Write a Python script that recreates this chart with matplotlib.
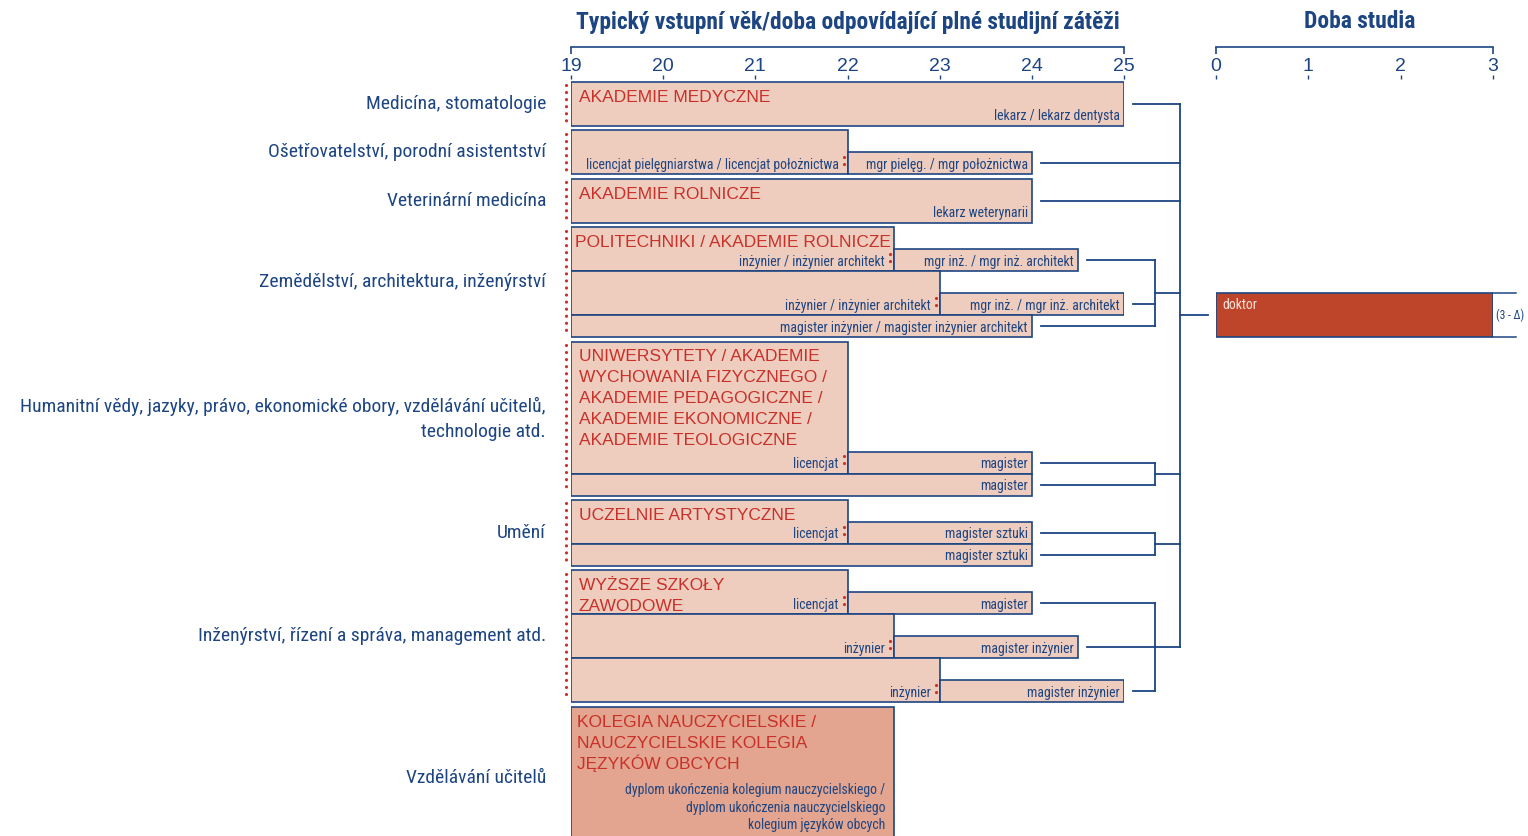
import matplotlib
matplotlib.use("Agg")
import matplotlib.pyplot as plt
from matplotlib.patches import Rectangle
import matplotlib.font_manager as fm

# ---------------- data ----------------
TITLE_AGE = "Typický vstupní věk/doba odpovídající plné studijní zátěži"
TITLE_DURATION = "Doba studia"
AGE_TICKS = [19, 20, 21, 22, 23, 24, 25]
DURATION_TICKS = [0, 1, 2, 3]

FIELDS = [
    "Medicína, stomatologie",
    "Ošetřovatelství, porodní asistentství",
    "Veterinární medicína",
    "Zemědělství, architektura, inženýrství",
    "Humanitní vědy, jazyky, právo, ekonomické obory, vzdělávání učitelů,\ntechnologie atd.",
    "Umění",
    "Inženýrství, řízení a správa, management atd.",
    "Vzdělávání učitelů",
]

# one entry per bar
BAR_GROUP = [0, 1, 1, 2, 3, 3, 3, 3, 3, 4, 4, 4, 5, 5, 5, 6, 6, 6, 6, 6, 6, 7]
BAR_START = [19, 19, 22, 19, 19, 22.5, 19, 23, 19, 19, 22, 19, 19, 22, 19, 19, 22, 19, 22.5, 19, 23, 19]
BAR_END = [25, 22, 24, 24, 22.5, 24.5, 23, 25, 24, 22, 24, 24, 22, 24, 24, 22, 24, 22.5, 24.5, 23, 25, 22.5]
BAR_DEGREE = [
    "lekarz / lekarz dentysta",
    "licencjat pielęgniarstwa / licencjat położnictwa",
    "mgr pielęg. / mgr położnictwa",
    "lekarz weterynarii",
    "inżynier / inżynier architekt",
    "mgr inż. / mgr inż. architekt",
    "inżynier / inżynier architekt",
    "mgr inż. / mgr inż. architekt",
    "magister inżynier / magister inżynier architekt",
    "licencjat",
    "magister",
    "magister",
    "licencjat",
    "magister sztuki",
    "magister sztuki",
    "licencjat",
    "magister",
    "inżynier",
    "magister inżynier",
    "inżynier",
    "magister inżynier",
    "dyplom ukończenia kolegium nauczycielskiego /\ndyplom ukończenia nauczycielskiego\nkolegium języków obcych",
]
BAR_INSTITUTION = {
    0: "AKADEMIE MEDYCZNE",
    3: "AKADEMIE ROLNICZE",
    4: "POLITECHNIKI / AKADEMIE ROLNICZE",
    9: "UNIWERSYTETY / AKADEMIE\nWYCHOWANIA FIZYCZNEGO /\nAKADEMIE PEDAGOGICZNE /\nAKADEMIE EKONOMICZNE /\nAKADEMIE TEOLOGICZNE",
    12: "UCZELNIE ARTYSTYCZNE",
    15: "WYŻSZE SZKOŁY\nZAWODOWE",
    21: "KOLEGIA NAUCZYCIELSKIE /\nNAUCZYCIELSKIE KOLEGIA\nJĘZYKÓW OBCYCH",
}
# bar continues into a following programme (dotted marker at its end)
BAR_CONTINUES = [0, 1, 0, 0, 1, 0, 1, 0, 0, 1, 0, 0, 1, 0, 0, 1, 0, 1, 0, 1, 0, 0]
# bar leads on to doctoral studies
BAR_TO_DOCTOR = [1, 0, 1, 1, 0, 1, 0, 1, 1, 0, 1, 1, 0, 1, 1, 0, 1, 0, 1, 0, 1, 0]
DOCTOR_LABEL = "doktor"
DOCTOR_START, DOCTOR_END = 0, 3
DOCTOR_NOTE = "(3 - Δ)"

# ---------------- layout (not data) ----------------
GROUP_HEIGHT = [2, 2, 2, 5, 7, 3, 6, 6.5]          # in half-row units
BAR_ROW = [0, 0, 1, 0, 0, 1, 2, 3, 4, 0, 5, 6, 0, 1, 2, 0, 1, 2, 3, 4, 5, 0]
BAR_SPAN = [2, 2, 1, 2, 2, 1, 2, 1, 1, 6, 1, 1, 2, 1, 1, 2, 1, 2, 1, 2, 1, 6.5]
INSTITUTION_INDENT_PX = {4: 4, 21: 6}
DIRECT_GROUPS = [0, 1, 2]      # connect straight to outer bracket
GAP = 0.2
DOCTOR_ROW_GROUP, DOCTOR_ROW, DOCTOR_SPAN = 3, 3, 2

W, H = 1528, 836
PX_19, PX_25 = 571, 1124
PX_D0, PX_D3 = 1216, 1493
PX_AXTOP, PX_ROW0, ROW_PX = 47, 82, 22.0

BLUE = "#1d4582"
RED = "#c8302a"
FILL = "#efcdbe"
FILL_DARK = "#e3a58f"
DOC = "#be4529"

avail = {f.name for f in fm.fontManager.ttflist}


def pick(*names):
    for n in names:
        if n in avail:
            return n
    return "DejaVu Sans"


COND = pick("Liberation Sans Narrow", "DejaVu Sans Condensed", "Roboto Condensed",
            "Open Sans Condensed", "Liberation Sans")
ARIAL = pick("Liberation Sans", "Arial", "DejaVu Sans")
narrow = COND != "Liberation Sans"
DEG_FS = 9.9 if narrow else 9.0
DOTS = dict(color=RED, lw=2.3, ls=(0, (0.01, 2.2)), dash_capstyle="round")

fig = plt.figure(figsize=(W / 100, H / 100), dpi=100)
ytop = (PX_AXTOP - PX_ROW0) / ROW_PX
ybot = (H - PX_ROW0) / ROW_PX

ax = fig.add_axes([PX_19 / W, 0, (PX_25 - PX_19) / W, (H - PX_AXTOP) / H])
ax.set_xlim(AGE_TICKS[0], AGE_TICKS[-1])
ax.set_ylim(ybot, ytop)
ax2 = fig.add_axes([PX_D0 / W, 0, (PX_D3 - PX_D0) / W, (H - PX_AXTOP) / H])
ax2.set_xlim(DURATION_TICKS[0], DURATION_TICKS[-1])
ax2.set_ylim(ybot, ytop)

for a, ticks in ((ax, AGE_TICKS), (ax2, DURATION_TICKS)):
    a.patch.set_visible(False)
    for s in ("left", "right", "bottom"):
        a.spines[s].set_visible(False)
    a.spines["top"].set_color(BLUE)
    a.spines["top"].set_linewidth(1.2)
    a.set_yticks([])
    a.xaxis.tick_top()
    a.set_xticks(ticks)
    a.set_xticklabels([str(t) for t in ticks], fontfamily=ARIAL)
    a.tick_params(axis="x", which="major", length=0, pad=-20.5, labelsize=14,
                  labelcolor=BLUE)
    a.xaxis.remove_overlapping_locs = False
    a.set_xticks([ticks[0], ticks[-1]], minor=True)
    a.tick_params(axis="x", which="minor", top=True, bottom=False, direction="in",
                  length=5, width=1.2, color=BLUE)
    a.vlines(ticks, (75 - PX_ROW0) / ROW_PX, (79 - PX_ROW0) / ROW_PX, color=BLUE,
             lw=1, clip_on=False)

ax.text(22, (22 - PX_ROW0) / ROW_PX, TITLE_AGE, ha="center", va="center",
        fontsize=16.9, fontweight="bold", color=BLUE, fontfamily=COND)
ax2.text(1.56, (22 - PX_ROW0) / ROW_PX, TITLE_DURATION, ha="center", va="center",
         fontsize=16.9, fontweight="bold", color=BLUE, fontfamily=COND)

# group tops
tops = []
y = 0.0
for h in GROUP_HEIGHT:
    tops.append(y)
    y += h + GAP

dx_px = (AGE_TICKS[-1] - AGE_TICKS[0]) / (PX_25 - PX_19)   # years per pixel

# left labels and red dotted start lines
for g, lab in enumerate(FIELDS):
    yc = tops[g] + GROUP_HEIGHT[g] / 2
    ax.text(19 - 25 * dx_px, yc, lab, ha="right", va="center", fontsize=14,
            color=BLUE, fontfamily=COND, multialignment="right", linespacing=1.5)
    if g < len(FIELDS) - 1:
        ax.plot([19 - 5 * dx_px] * 2, [tops[g] + 0.15, tops[g] + GROUP_HEIGHT[g] - 0.1],
                clip_on=False, **DOTS)

# bars
inner_lines = {}
doctor_lines = []
for i in range(len(BAR_START)):
    g = BAR_GROUP[i]
    y0 = tops[g] + BAR_ROW[i]
    h = BAR_SPAN[i]
    fc = FILL_DARK if g == len(FIELDS) - 1 else FILL
    ax.add_patch(Rectangle((BAR_START[i], y0), BAR_END[i] - BAR_START[i], h,
                           facecolor=fc, edgecolor=BLUE, lw=1.2, zorder=2))
    yb = y0 + h
    if BAR_CONTINUES[i]:
        ax.plot([BAR_END[i] - 4 * dx_px] * 2, [yb - 0.78, yb - 0.18], zorder=4, **DOTS)
        xr = BAR_END[i] - 9 * dx_px
    else:
        xr = BAR_END[i] - 4 * dx_px
    if "\n" in BAR_DEGREE[i]:
        ax.text(xr - 4 * dx_px, yb - 1.92, BAR_DEGREE[i], ha="right", va="center",
                fontsize=DEG_FS, color=BLUE, fontfamily=COND, multialignment="right",
                linespacing=1.35, zorder=5)
    else:
        ax.text(xr, yb - 0.44, BAR_DEGREE[i], ha="right", va="center",
                fontsize=DEG_FS, color=BLUE, fontfamily=COND, zorder=5)
    if i in BAR_INSTITUTION:
        ind = INSTITUTION_INDENT_PX.get(i, 8)
        for k, line in enumerate(BAR_INSTITUTION[i].split("\n")):
            ax.text(19 + ind * dx_px, y0 + 0.9 + k * 21 / ROW_PX, line, ha="left",
                    va="baseline", fontsize=12.5, color=RED, fontfamily=ARIAL, zorder=5)
    if BAR_TO_DOCTOR[i]:
        yc = y0 + h / 2
        if g in DIRECT_GROUPS:
            doctor_lines.append((BAR_END[i] + 9 * dx_px, yc))
        else:
            inner_lines.setdefault(g, []).append((BAR_END[i] + 9 * dx_px, yc))

X_INNER = 19 + (1155 - PX_19) * dx_px
X_OUTER = 19 + (1180 - PX_19) * dx_px
X_STUB = 19 + (1208 - PX_19) * dx_px
lk = dict(color=BLUE, lw=1.3, clip_on=False)
outer_ys = []
for x0, yc in doctor_lines:
    ax.plot([x0, X_OUTER], [yc, yc], **lk)
    outer_ys.append(yc)
for g, items in inner_lines.items():
    ys = [yc for _, yc in items]
    for x0, yc in items:
        ax.plot([x0, X_INNER], [yc, yc], **lk)
    ax.plot([X_INNER, X_INNER], [min(ys), max(ys)], **lk)
    ym = (min(ys) + max(ys)) / 2
    ax.plot([X_INNER, X_OUTER], [ym, ym], **lk)
    outer_ys.append(ym)
ax.plot([X_OUTER, X_OUTER], [min(outer_ys), max(outer_ys)], **lk)

dy0 = tops[DOCTOR_ROW_GROUP] + DOCTOR_ROW
ax.plot([X_OUTER, X_STUB], [dy0 + DOCTOR_SPAN / 2] * 2, **lk)

# doctoral bar
ax2.add_patch(Rectangle((DOCTOR_START, dy0), DOCTOR_END - DOCTOR_START, DOCTOR_SPAN,
                        facecolor=DOC, edgecolor=BLUE, lw=1.2, zorder=2))
for yy in (dy0, dy0 + DOCTOR_SPAN):
    ax2.plot([DOCTOR_END, DOCTOR_END + 0.25], [yy, yy], color=BLUE, lw=1.1,
             clip_on=False)
ax2.text(DOCTOR_START + 0.07, dy0 + 0.55, DOCTOR_LABEL, ha="left", va="center",
         fontsize=DEG_FS, color="#f6e4dc", fontfamily=COND, zorder=5)
ax2.text(DOCTOR_END + 0.03, dy0 + DOCTOR_SPAN / 2, DOCTOR_NOTE, ha="left", va="center",
         fontsize=8.3, color=BLUE, fontfamily=COND, clip_on=False)

fig.savefig("out.png", dpi=100)
